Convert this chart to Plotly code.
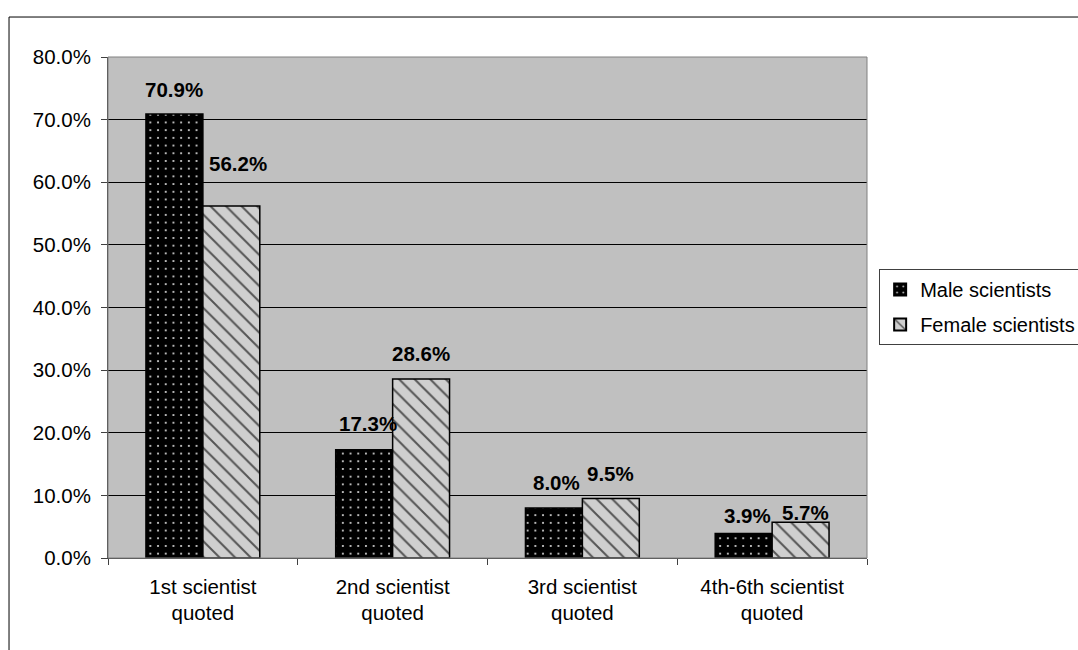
import plotly.graph_objects as go

# Share of quotes by position of the scientist in the story
categories = ["1st scientist<br>quoted", "2nd scientist<br>quoted",
              "3rd scientist<br>quoted", "4th-6th scientist<br>quoted"]
male = [70.9, 17.3, 8.0, 3.9]
female = [56.2, 28.6, 9.5, 5.7]
series_names = ["Male scientists", "Female scientists"]

# value-label nudges in pixels (horizontal, vertical)
male_label_dx = [0, 4, 3, 4]
male_label_dy = [24, 26, 25, 18]
female_label_dx = [7, 0, 0, 5]
female_label_dy = [43, 25, 25, 10]

FONT = "Liberation Sans, Arial, sans-serif"
FS = 20.5

fig = go.Figure()
fig.add_trace(go.Bar(
    x=categories, y=male, name=series_names[0], legendgroup="m",
    marker=dict(color="black", line=dict(color="black", width=1.5),
                pattern=dict(shape=".", fgcolor="#e0e0e0", bgcolor="black",
                             size=7.7, solidity=0.06, fillmode="replace")),
))
fig.add_trace(go.Bar(
    x=categories, y=female, name=series_names[1], legendgroup="f",
    marker=dict(color="#cfcfcf", line=dict(color="black", width=1.5),
                pattern=dict(shape="\\", fgcolor="#555555", bgcolor="#cfcfcf",
                             size=11, solidity=0.18, fillmode="replace")),
))

half = 28.5  # half a bar width in pixels
for cat, v, dx, dy in zip(categories, male, male_label_dx, male_label_dy):
    fig.add_annotation(x=cat, y=v, text=f"<b>{v:.1f}%</b>", showarrow=False,
                       xshift=-half + dx, yshift=dy, yanchor="middle",
                       font=dict(family=FONT, size=FS, color="black"))
for cat, v, dx, dy in zip(categories, female, female_label_dx, female_label_dy):
    fig.add_annotation(x=cat, y=v, text=f"<b>{v:.1f}%</b>", showarrow=False,
                       xshift=half + dx, yshift=dy, yanchor="middle",
                       font=dict(family=FONT, size=FS, color="black"))

# outer chart frame and plot-area border
fig.add_shape(type="rect", xref="paper", yref="paper",
              x0=-0.1304, x1=1.6, y0=1.0798, y1=-0.4,
              line=dict(color="black", width=1), layer="below")
fig.add_shape(type="rect", xref="paper", yref="paper",
              x0=0, x1=1, y0=0, y1=1,
              line=dict(color="#808080", width=1))

fig.update_layout(
    width=1078, height=650,
    margin=dict(l=108, r=211, t=57, b=92, autoexpand=False),
    paper_bgcolor="white", plot_bgcolor="#c0c0c0",
    barmode="group", bargap=0.4, bargroupgap=0,
    font=dict(family=FONT, size=FS, color="black"),
    showlegend=True,
    legend=dict(x=1.016, xanchor="left", y=0.501, yanchor="middle",
                bgcolor="white", bordercolor="#404040", borderwidth=1,
                font=dict(family=FONT, size=20, color="black"),
                traceorder="grouped", tracegroupgap=6,
                itemsizing="constant", itemwidth=30),
    xaxis=dict(showline=True, linecolor="#404040", linewidth=1,
               ticks="outside", tickson="boundaries", ticklen=6,
               tickcolor="#404040", showgrid=False, ticklabelstandoff=10,
               tickfont=dict(family=FONT, size=FS, color="black")),
    yaxis=dict(range=[0, 80], dtick=10, tickformat=".1f", ticksuffix="%",
               showline=True, linecolor="#404040", linewidth=1,
               ticks="outside", ticklen=6, tickcolor="#404040",
               showgrid=True, gridcolor="black", gridwidth=1,
               zeroline=False, ticklabelstandoff=6,
               tickfont=dict(family=FONT, size=FS, color="black")),
)

fig.write_html("out.html")
